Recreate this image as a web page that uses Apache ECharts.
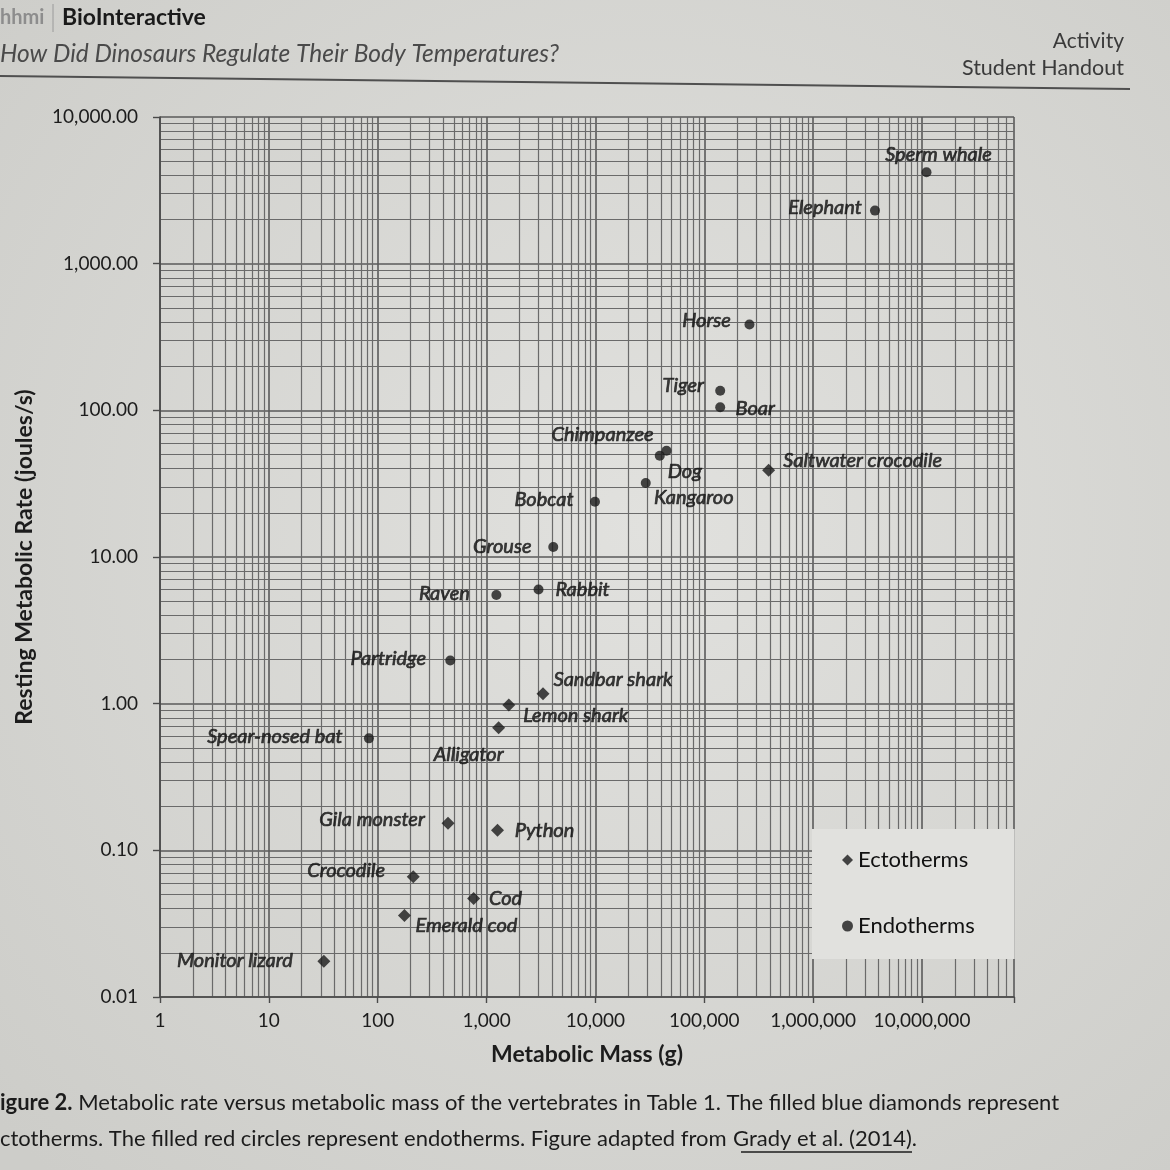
<!DOCTYPE html>
<html><head><meta charset="utf-8">
<script src="https://cdn.jsdelivr.net/npm/echarts@6/dist/echarts.min.js"></script>
<style>html,body{margin:0;padding:0;background:#d8d8d5}#c{width:1170px;height:1170px}</style>
</head><body><div id="c"></div>
<script>
// ---- data ----
const ectoNames = ['Saltwater crocodile','Sandbar shark','Lemon shark','Alligator','Gila monster','Python','Crocodile','Cod','Emerald cod','Monitor lizard'];
const ectoMass  = [390000, 3300, 1600, 1290, 442, 1260, 212, 760, 176, 32];
const ectoRate  = [39, 1.17, 0.98, 0.685, 0.153, 0.137, 0.066, 0.047, 0.036, 0.0175];

const endoNames = ['Sperm whale','Elephant','Horse','Tiger','Boar','Chimpanzee','Dog','Kangaroo','Bobcat','Grouse','Rabbit','Raven','Partridge','Spear-nosed bat'];
const endoMass  = [11000000, 3700000, 260000, 140000, 140000, 45000, 39000, 29000, 9900, 4100, 3000, 1230, 464, 83];
const endoRate  = [4200, 2300, 385, 136, 105, 53, 49, 32, 23.8, 11.7, 6.0, 5.5, 1.97, 0.58];

const xTickLabels = ['1','10','100','1,000','10,000','100,000','1,000,000','10,000,000'];
const yTickLabels = ['0.01','0.10','1.00','10.00','100.00','1,000.00','10,000.00'];

// ---- label placement (style, kept apart from data) ----
const labelOffset = {
  'Sperm whale':[12,-18], 'Elephant':[-50,-3], 'Horse':[-43,-4], 'Tiger':[-37,-5], 'Boar':[35,1],
  'Chimpanzee':[-64,-16], 'Dog':[25,16], 'Kangaroo':[48,15], 'Saltwater crocodile':[94,-10],
  'Bobcat':[-51,-2], 'Grouse':[-51,0], 'Rabbit':[44,0], 'Raven':[-52,-2], 'Partridge':[-62,-2],
  'Sandbar shark':[70,-14], 'Lemon shark':[67,11], 'Alligator':[-30,27], 'Spear-nosed bat':[-94,-2],
  'Gila monster':[-76,-4], 'Python':[47,0], 'Crocodile':[-67,-6], 'Cod':[32,0], 'Emerald cod':[62,10],
  'Monitor lizard':[-89,-1]
};

const X_MIN = 1, X_MAX = 7e7, Y_MIN = 0.01, Y_MAX = 10000;
function minorLines(lo, hi, axis) {
  const out = [];
  for (let k = Math.floor(Math.log10(lo)); k <= Math.ceil(Math.log10(hi)); k++) {
    for (let m = 2; m <= 9; m++) {
      const v = m * Math.pow(10, k);
      if (v > lo && v < hi) out.push({[axis]: v});
    }
  }
  return out;
}
function decadeIndex(v) {
  const l = Math.log10(v), r = Math.round(l);
  return Math.abs(l - r) < 1e-6 ? r : null;
}

const FONT = 'Lato, "Noto Sans", sans-serif';
const INK = '#1c1c1c';

function mk(names, mass, rate) {
  return names.map((n, i) => ({
    name: n, value: [mass[i], rate[i]],
    label: { offset: labelOffset[n] || [0, 0] }
  }));
}
const labelCfg = {
  show: true, position: 'inside', formatter: '{b}', color: '#111',
  textBorderColor: '#111', textBorderWidth: 0.7,
  fontStyle: 'italic', fontFamily: FONT, fontSize: 20
};

const chart = echarts.init(document.getElementById('c'), null, {renderer: 'canvas'});
chart.setOption({
  animation: false,
  backgroundColor: {
    type: 'radial', x: 0.55, y: 0.45, r: 0.75,
    colorStops: [{offset: 0, color: '#e1e1de'}, {offset: 1, color: '#cdcdc9'}]
  },
  grid: { left: 160, right: 156, top: 117, bottom: 173, containLabel: false },
  xAxis: {
    type: 'log', logBase: 10, min: X_MIN, max: X_MAX, z: 0,
    name: 'Metabolic Mass (g)', nameLocation: 'middle', nameGap: 46,
    nameTextStyle: { fontFamily: FONT, fontWeight: 'bold', fontSize: 23, color: INK },
    axisLine: { show: true, lineStyle: { color: '#4a4a4a', width: 1.6 } },
    axisTick: { show: true, length: 6, lineStyle: { color: '#4a4a4a', width: 1.4 } },
    axisLabel: {
      margin: 14, fontFamily: FONT, fontSize: 19, color: INK,
      formatter: v => { const i = decadeIndex(v); return i === null ? '' : (xTickLabels[i] || ''); }
    },
    splitLine: { show: true, lineStyle: { color: '#5a5a5a', width: 1.6 } }
  },
  yAxis: {
    type: 'log', logBase: 10, min: Y_MIN, max: Y_MAX, z: 0,
    name: 'Resting Metabolic Rate (joules/s)', nameLocation: 'middle', nameGap: 124, nameRotate: 90,
    nameTextStyle: { fontFamily: FONT, fontWeight: 'bold', fontSize: 23, color: INK },
    axisLine: { show: true, lineStyle: { color: '#4a4a4a', width: 1.6 } },
    axisTick: { show: true, length: 7, lineStyle: { color: '#4a4a4a', width: 1.4 } },
    axisLabel: {
      margin: 22, fontFamily: FONT, fontSize: 19, color: INK,
      formatter: v => { const i = decadeIndex(v); return i === null ? '' : (yTickLabels[i + 2] || ''); }
    },
    splitLine: { show: true, lineStyle: { color: '#5a5a5a', width: 1.6 } }
  },
  legend: {
    data: ['Ectotherms', 'Endotherms'], orient: 'vertical', left: 812, top: 829,
    itemGap: 44, itemWidth: 11, itemHeight: 11, z: 10,
    padding: [20, 40, 22, 30], backgroundColor: '#e1e1de',
    textStyle: { fontFamily: FONT, fontSize: 22, color: '#111' }
  },
  series: [
    {
      name: 'grid', type: 'scatter', data: [], z: 0, silent: true,
      markLine: {
        z: 0, silent: true, symbol: ['none', 'none'], label: { show: false }, animation: false,
        lineStyle: { color: '#6a6a6a', width: 1.2, type: 'solid' },
        emphasis: { disabled: true },
        data: minorLines(X_MIN, X_MAX, 'xAxis').concat(minorLines(Y_MIN, Y_MAX, 'yAxis'))
      }
    },
    {
      name: 'Ectotherms', type: 'scatter', symbol: 'diamond', symbolSize: 13, z: 3,
      itemStyle: { color: '#1a1a1a' }, label: labelCfg,
      data: mk(ectoNames, ectoMass, ectoRate)
    },
    {
      name: 'Endotherms', type: 'scatter', symbol: 'circle', symbolSize: 10, z: 3,
      itemStyle: { color: '#1a1a1a' }, label: labelCfg,
      data: mk(endoNames, endoMass, endoRate)
    }
  ],
  graphic: [
    { type: 'text', style: { x: 0, y: 18, text: 'hhmi', font: 'bold 20px ' + FONT, fill: '#8d8d8d', textVerticalAlign: 'middle' } },
    { type: 'line', shape: { x1: 53, y1: 4, x2: 53, y2: 32 }, style: { stroke: '#9a9a9a', lineWidth: 1 } },
    { type: 'text', style: { x: 62, y: 18, text: 'BioInteractive', font: 'bold 23px ' + FONT, fill: '#1a1a1a', textVerticalAlign: 'middle' } },
    { type: 'text', style: { x: 0, y: 54, text: 'How Did Dinosaurs Regulate Their Body Temperatures?', font: 'italic 24.5px ' + FONT, fill: '#4a4a4a', textVerticalAlign: 'middle' } },
    { type: 'text', style: { x: 1124, y: 41, text: 'Activity', font: '21px ' + FONT, fill: '#3a3a3a', textAlign: 'right', textVerticalAlign: 'middle' } },
    { type: 'text', style: { x: 1124, y: 68, text: 'Student Handout', font: '21.5px ' + FONT, fill: '#3a3a3a', textAlign: 'right', textVerticalAlign: 'middle' } },
    { type: 'line', shape: { x1: 0, y1: 76, x2: 1130, y2: 89 }, style: { stroke: '#4f4f4f', lineWidth: 2 } },
    { type: 'text', style: {
        x: 0, y: 1103, textVerticalAlign: 'middle',
        text: '{b|igure 2.} Metabolic rate versus metabolic mass of the vertebrates in Table 1. The filled blue diamonds represent',
        fontSize: 22, fontFamily: FONT, fill: INK,
        rich: { b: { fontWeight: 'bold', fontSize: 22, fontFamily: FONT, fill: INK } }
    } },
    { type: 'text', style: { x: 0, y: 1139, textVerticalAlign: 'middle',
        text: 'ctotherms. The filled red circles represent endotherms. Figure adapted from', font: '22px ' + FONT, fill: INK } },
    { type: 'text', style: { x: 917, y: 1139, textAlign: 'right', textVerticalAlign: 'middle',
        text: 'Grady et al. (2014).', font: '22px ' + FONT, fill: INK } },
    { type: 'line', shape: { x1: 741, y1: 1152, x2: 912, y2: 1152 }, style: { stroke: INK, lineWidth: 1.4 } }
  ]
});
</script>
</body></html>
